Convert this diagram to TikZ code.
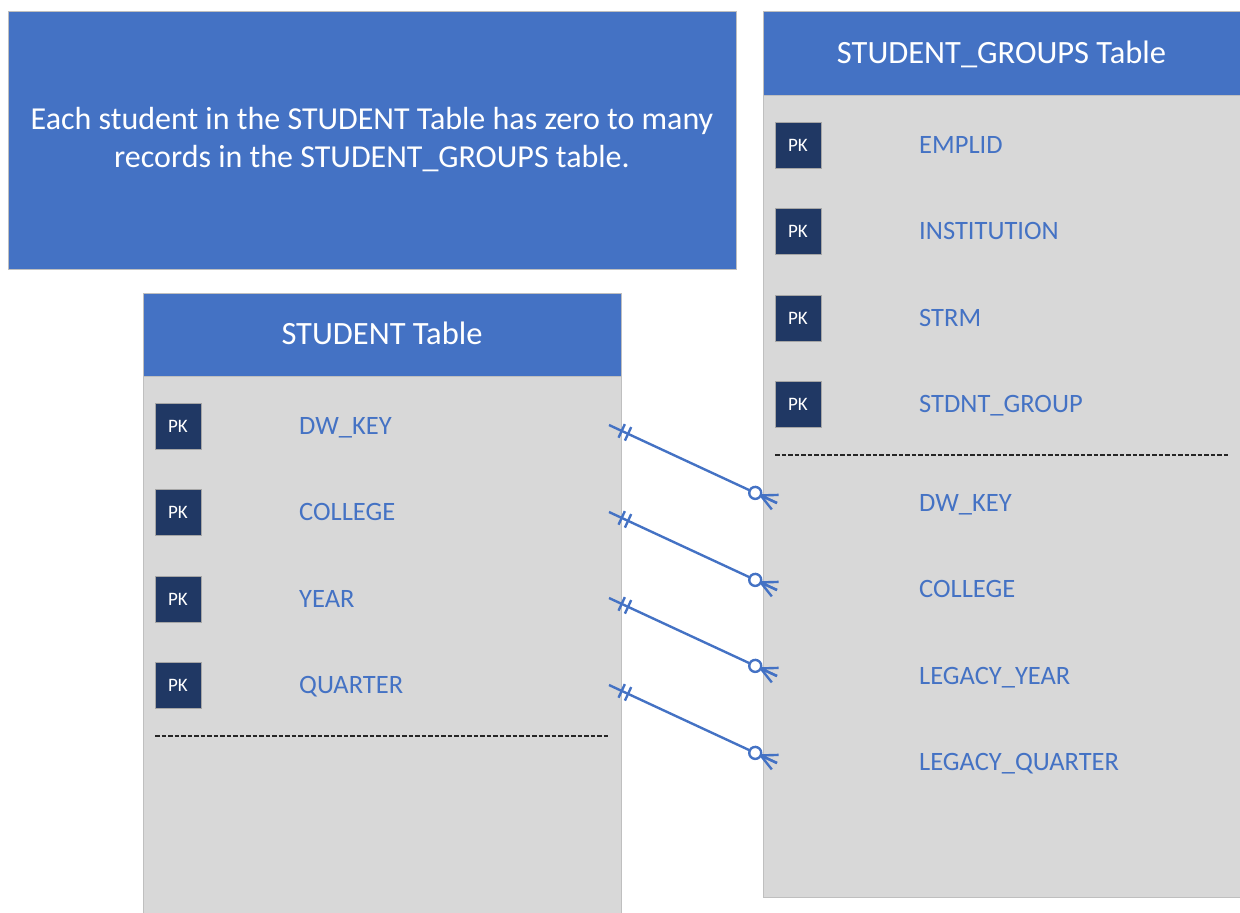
\documentclass[tikz,border=0pt]{standalone}
\usepackage{fontspec}
\setmainfont{Carlito}
\usetikzlibrary{decorations.markings}
\definecolor{erblue}{HTML}{4472C4}
\definecolor{pknavy}{HTML}{203864}
\definecolor{bodygray}{HTML}{D8D8D8}
\definecolor{edgegray}{HTML}{BFBFBF}

\begin{document}
\begin{tikzpicture}[
    x=1pt, y=-1pt,
    every node/.style={inner sep=0pt},
    note/.style={fill=erblue, draw=edgegray, line width=0.8pt, text=white, align=center,
        minimum width=728pt, minimum height=258pt, font=\fontsize{32}{38}\selectfont},
    tablebody/.style={fill=bodygray, draw=edgegray, line width=0.8pt},
    tablehead/.style={fill=erblue, draw=edgegray, line width=0.8pt, text=white,
        font=\fontsize{32.5}{38}\selectfont, text height=20.5pt, text depth=0pt},
    pkbox/.style={fill=pknavy, draw=gray!70, line width=0.6pt, text=white,
        minimum size=46pt, font=\fontsize{19}{22}\selectfont},
    field/.style={anchor=base west, text=erblue, font=\fontsize{26.5}{31}\selectfont},
    divider/.style={draw=black!85, line width=1.8pt, dash pattern=on 4.5pt off 2pt},
    onemany/.style={draw=erblue, line width=2.4pt, postaction={decorate},
        decoration={markings,
            mark=at position 14pt with {\draw[erblue, line width=2.4pt] (0,-7.5pt) -- (0,7.5pt);},
            mark=at position 21pt with {\draw[erblue, line width=2.4pt] (0,-7.5pt) -- (0,7.5pt);},
            mark=at position -24pt with {\draw[erblue, line width=2.4pt, fill=white] (0,0) circle (6pt);},
            mark=at position -18pt with {\draw[erblue, line width=2.4pt]
                (0,0) -- (18pt,0) (0,0) -- (16pt,8pt) (0,0) -- (16pt,-8pt);}}}
]
    \useasboundingbox (0,0) rectangle (1240,913);

    % note
    \node[note] (note) at (372,140) {Each student in the STUDENT Table has zero to many\\
        records in the STUDENT\_GROUPS table.};

    % STUDENT table
    \node[tablebody, minimum width=478pt, minimum height=620pt] (student) at (382,603) {};
    \node[tablehead, anchor=north, minimum width=478pt, minimum height=83pt] (studenthead)
        at (student.north) {STUDENT Table};
    \node[pkbox] (spk1) at (178,426) {PK};
    \node[pkbox] (spk2) at (178,512) {PK};
    \node[pkbox] (spk3) at (178,599) {PK};
    \node[pkbox] (spk4) at (178,685) {PK};
    \node[field] (sdwkey) at (299,434.5) {DW\_KEY};
    \node[field] (scollege) at (299,520.5) {COLLEGE};
    \node[field] (syear) at (299,607.5) {YEAR};
    \node[field] (squarter) at (299,693.5) {QUARTER};
    \coordinate (sdiva) at (155,736);
    \coordinate (sdivb) at (608,736);
    \draw[divider] (sdiva) -- (sdivb);

    % STUDENT_GROUPS table
    \node[tablebody, minimum width=477pt, minimum height=886pt] (groups) at (1001.5,454) {};
    \node[tablehead, anchor=north, minimum width=477pt, minimum height=84pt] (groupshead)
        at (groups.north) {STUDENT\_GROUPS Table};
    \node[pkbox] (gpk1) at (798,145) {PK};
    \node[pkbox] (gpk2) at (798,231) {PK};
    \node[pkbox] (gpk3) at (798,318) {PK};
    \node[pkbox] (gpk4) at (798,404) {PK};
    \node[field] (gemplid) at (919,153.5) {EMPLID};
    \node[field] (ginstitution) at (919,239.5) {INSTITUTION};
    \node[field] (gstrm) at (919,326.5) {STRM};
    \node[field] (ggroup) at (919,412.5) {STDNT\_GROUP};
    \coordinate (gdiva) at (775,455);
    \coordinate (gdivb) at (1228,455);
    \draw[divider] (gdiva) -- (gdivb);
    \node[field] (gdwkey) at (919,511.5) {DW\_KEY};
    \node[field] (gcollege) at (919,597.5) {COLLEGE};
    \node[field] (gyear) at (919,684.5) {LEGACY\_YEAR};
    \node[field] (gquarter) at (919,770.5) {LEGACY\_QUARTER};

    % relationships
    \coordinate (sdw) at (609,425);
    \coordinate (scol) at (609,512);
    \coordinate (syr) at (609,598);
    \coordinate (sqt) at (609,685);
    \coordinate (gdw) at (777,503);
    \coordinate (gcol) at (777,590);
    \coordinate (gyr) at (777,676);
    \coordinate (gqt) at (777,763);
    \draw[onemany] (sdw) -- (gdw);
    \draw[onemany] (scol) -- (gcol);
    \draw[onemany] (syr) -- (gyr);
    \draw[onemany] (sqt) -- (gqt);
\end{tikzpicture}
\end{document}
